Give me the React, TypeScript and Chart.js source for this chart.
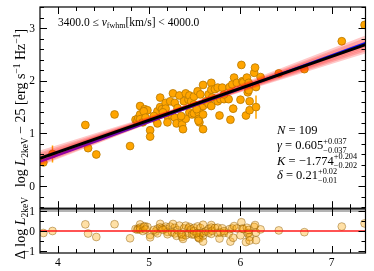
import React, { useEffect, useRef } from "react";
import { Chart, registerables } from "chart.js";
Chart.register(...registerables);

// ---------- data ----------
const PX = [
  3.84, 3.94, 4.30, 4.33, 4.42, 4.62, 4.79, 4.85, 4.87, 4.88,
  4.90, 4.90, 4.90, 4.93, 4.95, 4.98, 4.94, 4.96, 5.01, 5.01,
  5.07, 5.09, 5.09, 5.12, 5.12, 5.14, 5.18, 5.18, 5.20, 5.20,
  5.23, 5.26, 5.28, 5.25, 5.28, 5.30, 5.31, 5.33, 5.36, 5.36,
  5.37, 5.38, 5.40, 5.40, 5.35, 5.43, 5.44, 5.44, 5.47, 5.46,
  5.49, 5.49, 5.49, 5.53, 5.56, 5.54, 5.54, 5.55, 5.54, 5.56,
  5.59, 5.59, 5.59, 5.59, 5.62, 5.65, 5.65, 5.68, 5.68, 5.68,
  5.69, 5.72, 5.75, 5.75, 5.77, 5.78, 5.80, 5.82, 5.87, 5.88,
  5.89, 5.91, 5.92, 5.93, 5.96, 6.00, 6.01, 6.02, 6.03, 6.06,
  6.07, 6.08, 6.09, 6.09, 6.10, 6.10, 6.15, 6.16, 6.17, 6.17,
  6.22, 6.42, 6.70, 7.11, 7.36, 5.15, 5.05, 5.52, 5.82,
];
const PY = [
  0.45, 0.61, 1.16, 0.72, 0.60, 1.36, 0.76, 1.26, 1.24, 1.29,
  1.52, 1.36, 1.27, 1.21, 1.46, 1.44, 1.42, 1.30, 1.06, 0.94,
  1.27, 1.19, 1.42, 1.68, 1.50, 1.46, 1.58, 1.47, 1.33, 1.21,
  1.61, 1.76, 1.58, 1.34, 1.30, 1.19, 1.48, 1.72, 1.27, 1.17,
  1.08, 1.61, 1.76, 1.28, 1.33, 1.64, 1.72, 1.40, 1.36, 1.61,
  1.70, 1.55, 1.38, 1.80, 1.74, 1.40, 1.27, 1.21, 1.24, 1.49,
  1.36, 1.52, 1.92, 1.08, 1.61, 1.74, 1.56, 1.96, 1.83, 1.52,
  1.68, 1.84, 1.87, 1.61, 1.34, 1.65, 1.87, 1.65, 1.65, 1.88,
  1.26, 1.93, 1.47, 2.06, 1.96, 1.64, 2.30, 1.99, 1.97, 1.34,
  2.06, 1.78, 1.82, 1.96, 1.61, 1.44, 2.15, 2.25, 1.88, 1.50,
  2.07, 2.14, 2.22, 2.75, 3.06, 1.40, 1.33, 1.46, 1.74,
];
const PERR = [
  0.03, 0.16, 0.03, 0.03, 0.03, 0.03, 0.03, 0.03, 0.03, 0.03,
  0.03, 0.03, 0.03, 0.03, 0.03, 0.03, 0.03, 0.03, 0.03, 0.07,
  0.03, 0.03, 0.03, 0.03, 0.03, 0.03, 0.03, 0.03, 0.03, 0.03,
  0.03, 0.03, 0.03, 0.03, 0.03, 0.03, 0.03, 0.03, 0.03, 0.09,
  0.03, 0.03, 0.03, 0.03, 0.03, 0.03, 0.03, 0.03, 0.03, 0.03,
  0.03, 0.03, 0.03, 0.03, 0.03, 0.03, 0.03, 0.03, 0.03, 0.03,
  0.03, 0.03, 0.03, 0.03, 0.03, 0.03, 0.03, 0.06, 0.03, 0.03,
  0.03, 0.03, 0.03, 0.03, 0.03, 0.03, 0.03, 0.03, 0.03, 0.03,
  0.03, 0.03, 0.08, 0.03, 0.03, 0.07, 0.03, 0.03, 0.03, 0.03,
  0.03, 0.03, 0.03, 0.03, 0.03, 0.03, 0.03, 0.03, 0.03, 0.22,
  0.03, 0.03, 0.03, 0.03, 0.03, 0.03, 0.03, 0.03, 0.03,
];

// best fit and alternative relation
const GAMMA = 0.605;
const K_FIT = -1.774;
const ALT_SLOPE = 0.6306;
const ALT_INTERCEPT = -1.9326;
// posterior sample lines (slope, intercept)
const SAMPLE_GAMMA = [0.54, 0.56, 0.58, 0.595, 0.605, 0.615, 0.63, 0.65, 0.67];
const SAMPLE_K = [-1.42, -1.53, -1.64, -1.72, -1.774, -1.83, -1.91, -2.02, -2.12];

// axes
const X_MIN = 3.803, X_MAX = 7.37;
const Y_MIN = -0.42, Y_MAX = 3.4;
const R_MIN = -1.1, R_MAX = 1.1;
const X_TICKS = [4, 5, 6, 7];
const Y_TICKS = [0, 1, 2, 3];
const R_TICKS = [-1, 0, 1];
const X_TICK_LABELS = ["4", "5", "6", "7"];
const Y_TICK_LABELS = ["0", "1", "2", "3"];
const R_TICK_LABELS = ["\u22121", "0", "1"];

const FONT = '"Liberation Serif", "DejaVu Serif", serif';
const BOT_TOP = 180; // top offset of the residual canvas

type Seg = { t?: string; it?: boolean; s?: number; dy?: number; sup?: string; sub?: string };

function f(size: number, it?: boolean) {
  return `${it ? "italic " : ""}${size}px ${FONT}`;
}

function segWidth(ctx: CanvasRenderingContext2D, s: Seg, base: number) {
  if (s.sup !== undefined || s.sub !== undefined) {
    const ss = s.s || base * 0.66;
    ctx.font = f(ss);
    return Math.max(ctx.measureText(s.sup || "").width, ctx.measureText(s.sub || "").width);
  }
  ctx.font = f(s.s || base, s.it);
  return ctx.measureText(s.t || "").width;
}

function drawRich(ctx: CanvasRenderingContext2D, segs: Seg[], x: number, y: number, base: number, align: "left" | "center") {
  let total = 0;
  for (const s of segs) total += segWidth(ctx, s, base);
  let cx = align === "center" ? x - total / 2 : x;
  ctx.textBaseline = "alphabetic";
  ctx.textAlign = "left";
  for (const s of segs) {
    const w = segWidth(ctx, s, base);
    if (s.sup !== undefined || s.sub !== undefined) {
      const ss = s.s || base * 0.66;
      ctx.font = f(ss);
      if (s.sup) ctx.fillText(s.sup, cx, y - base * 0.42);
      if (s.sub) ctx.fillText(s.sub, cx, y + base * 0.28);
    } else {
      ctx.font = f(s.s || base, s.it);
      ctx.fillText(s.t || "", cx, y + (s.dy || 0));
    }
    cx += w;
  }
}

function minorRange(min: number, max: number, step: number) {
  const out: number[] = [];
  const start = Math.ceil(min / step - 1e-9);
  for (let i = start; i * step <= max + 1e-9; i++) out.push(+(i * step).toFixed(6));
  return out;
}

function drawFrameAndTicks(chart: any, opts: { yMinor: number; yTicks: number[]; yLabels: string[]; xLabels: boolean }) {
  const ctx: CanvasRenderingContext2D = chart.ctx;
  const { left, right, top, bottom } = chart.chartArea;
  const xs = chart.scales.x;
  const ys = chart.scales.y;
  ctx.save();
  ctx.strokeStyle = "#000";
  ctx.lineWidth = 1.2;
  ctx.strokeRect(left, top, right - left, bottom - top);
  const MAJ = 7, MIN = 4;
  ctx.lineWidth = 1;
  ctx.beginPath();
  for (const v of minorRange(X_MIN, X_MAX, 0.2)) {
    const px = Math.round(xs.getPixelForValue(v)) + 0.5;
    const isMaj = Math.abs(v - Math.round(v)) < 1e-6;
    const L = isMaj ? MAJ : MIN;
    ctx.moveTo(px, bottom); ctx.lineTo(px, bottom - L);
    ctx.moveTo(px, top); ctx.lineTo(px, top + L);
  }
  for (const v of minorRange(ys.min, ys.max, opts.yMinor)) {
    const py = Math.round(ys.getPixelForValue(v)) + 0.5;
    const isMaj = opts.yTicks.some((t) => Math.abs(t - v) < 1e-6);
    const L = isMaj ? MAJ : MIN;
    ctx.moveTo(left, py); ctx.lineTo(left + L, py);
    ctx.moveTo(right, py); ctx.lineTo(right - L, py);
  }
  ctx.stroke();
  ctx.fillStyle = "#000";
  ctx.font = f(11.5);
  ctx.textAlign = "right";
  ctx.textBaseline = "middle";
  opts.yTicks.forEach((v, i) => {
    ctx.fillText(opts.yLabels[i], left - 5, ys.getPixelForValue(v) + 0.5);
  });
  if (opts.xLabels) {
    ctx.textAlign = "center";
    ctx.textBaseline = "top";
    X_TICKS.forEach((v, i) => {
      ctx.fillText(X_TICK_LABELS[i], xs.getPixelForValue(v), bottom + 4);
    });
  }
  ctx.restore();
}

function errorBars(chart: any) {
  const ctx: CanvasRenderingContext2D = chart.ctx;
  const xs = chart.scales.x, ys = chart.scales.y;
  const { left, right, top, bottom } = chart.chartArea;
  ctx.save();
  ctx.beginPath();
  ctx.rect(left, top, right - left, bottom - top);
  ctx.clip();
  ctx.strokeStyle = "#ffa500";
  ctx.lineWidth = 1.5;
  ctx.beginPath();
  PX.forEach((x, i) => {
    const px = xs.getPixelForValue(x);
    ctx.moveTo(px, ys.getPixelForValue(PY[i] - PERR[i]));
    ctx.lineTo(px, ys.getPixelForValue(PY[i] + PERR[i]));
  });
  ctx.stroke();
  ctx.restore();
}

function lineData(slope: number, intercept: number) {
  return [
    { x: X_MIN, y: intercept + slope * X_MIN },
    { x: X_MAX, y: intercept + slope * X_MAX },
  ];
}

export default function App() {
  const topRef = useRef<HTMLCanvasElement>(null);
  const botRef = useRef<HTMLCanvasElement>(null);

  useEffect(() => {
    const mainPlugin = {
      id: "mainDeco",
      beforeDatasetsDraw(chart: any) {
        errorBars(chart);
      },
      afterDraw(chart: any) {
        const ctx: CanvasRenderingContext2D = chart.ctx;
        drawFrameAndTicks(chart, { yMinor: 0.2, yTicks: Y_TICKS, yLabels: Y_TICK_LABELS, xLabels: false });
        ctx.save();
        ctx.fillStyle = "#000";
        drawRich(ctx, [
          { t: "3400.0 \u2264 " },
          { t: "v", it: true },
          { t: "fwhm", s: 8, dy: 2 },
          { t: "[km/s] < 4000.0" },
        ], 58, 26, 11.5, "left");
        const B = 12.5;
        drawRich(ctx, [{ t: "N", it: true }, { t: " = 109" }], 277, 134, B, "left");
        drawRich(ctx, [{ t: "\u03b3", it: true }, { t: " = 0.605" }, { sup: "+0.037", sub: "\u22120.037" }], 277, 149, B, "left");
        drawRich(ctx, [{ t: "K", it: true }, { t: " = \u22121.774" }, { sup: "+0.204", sub: "\u22120.202" }], 277, 164.5, B, "left");
        drawRich(ctx, [{ t: "\u03b4", it: true }, { t: " = 0.21" }, { sup: "+0.02", sub: "\u22120.01" }], 277, 179, B, "left");
        ctx.translate(25, 108);
        ctx.rotate(-Math.PI / 2);
        drawRich(ctx, [
          { t: "log " },
          { t: "L", it: true },
          { t: "2keV", s: 9.5, dy: 2.5 },
          { t: " \u2212 25 [erg s" },
          { t: "\u22121", s: 9.5, dy: -5.5 },
          { t: " Hz" },
          { t: "\u22121", s: 9.5, dy: -5.5 },
          { t: "]" },
        ], 0, 0, 14, "center");
        ctx.restore();
      },
    };

    const sampleSets = SAMPLE_GAMMA.map((g, i) => ({
      type: "line" as const,
      data: lineData(g, SAMPLE_K[i]),
      borderColor: "rgba(255,30,30,0.24)",
      borderWidth: 4,
      pointRadius: 0,
      showLine: true,
      order: 3,
    }));

    const top = new Chart(topRef.current!, {
      type: "scatter",
      data: {
        datasets: [
          {
            data: PX.map((x, i) => ({ x, y: PY[i] })),
            backgroundColor: "#ffa500",
            borderColor: "#b87800",
            borderWidth: 0.8,
            pointRadius: 3.9,
            clip: 0,
            order: 5,
          } as any,
          ...sampleSets,
          {
            type: "line",
            data: lineData(ALT_SLOPE, ALT_INTERCEPT),
            borderColor: (c: any) => {
              const a = c.chart.chartArea;
              if (!a) return "#6020c0";
              const g = c.chart.ctx.createLinearGradient(a.left, 0, a.right, 0);
              g.addColorStop(0, "#a0009a");
              g.addColorStop(0.5, "#5010c0");
              g.addColorStop(1, "#0010ff");
              return g;
            },
            borderWidth: 2.5,
            pointRadius: 0,
            showLine: true,
            order: 2,
          } as any,
          {
            type: "line",
            data: lineData(GAMMA, K_FIT),
            borderColor: "#000",
            borderWidth: 3,
            pointRadius: 0,
            showLine: true,
            order: 1,
          } as any,
        ],
      },
      options: {
        animation: false,
        responsive: false,
        events: [],
        layout: { padding: { left: 40, right: 8.5, top: 7, bottom: 4 } },
        plugins: { legend: { display: false }, tooltip: { enabled: false } },
        scales: {
          x: { type: "linear", min: X_MIN, max: X_MAX, display: false },
          y: { type: "linear", min: Y_MIN, max: Y_MAX, display: false },
        },
      },
      plugins: [mainPlugin],
    });

    const resPlugin = {
      id: "resDeco",
      beforeDatasetsDraw(chart: any) {
        const ctx: CanvasRenderingContext2D = chart.ctx;
        const { left, right } = chart.chartArea;
        const py = chart.scales.y.getPixelForValue(1);
        ctx.save();
        ctx.strokeStyle = "#9a9a9a";
        ctx.lineWidth = 1.6;
        ctx.beginPath();
        ctx.moveTo(left, py);
        ctx.lineTo(right, py);
        ctx.stroke();
        ctx.restore();
      },
      afterDraw(chart: any) {
        const ctx: CanvasRenderingContext2D = chart.ctx;
        drawFrameAndTicks(chart, { yMinor: 0.5, yTicks: R_TICKS, yLabels: R_TICK_LABELS, xLabels: true });
        ctx.save();
        ctx.fillStyle = "#000";
        ctx.translate(25, 228 - BOT_TOP);
        ctx.rotate(-Math.PI / 2);
        drawRich(ctx, [
          { t: "\u0394 log " },
          { t: "L", it: true },
          { t: "2keV", s: 9.5, dy: 2.5 },
        ], 0, 0, 14, "center");
        ctx.restore();
      },
    };

    const bot = new Chart(botRef.current!, {
      type: "scatter",
      data: {
        datasets: [
          {
            data: PX.map((x, i) => ({ x, y: PY[i] - (K_FIT + GAMMA * x) })),
            backgroundColor: "rgba(255,165,0,0.35)",
            borderColor: "rgba(130,85,0,0.55)",
            borderWidth: 0.8,
            pointRadius: 3.9,
            clip: 0,
            order: 5,
          } as any,
          {
            type: "line",
            data: [{ x: X_MIN, y: 0 }, { x: X_MAX, y: 0 }],
            borderColor: "#ff1a1a",
            borderWidth: 1.6,
            pointRadius: 0,
            showLine: true,
            order: 1,
          } as any,
        ],
      },
      options: {
        animation: false,
        responsive: false,
        events: [],
        layout: { padding: { left: 40, right: 8.5, top: 209 - BOT_TOP, bottom: 271 - 253 } },
        plugins: { legend: { display: false }, tooltip: { enabled: false } },
        scales: {
          x: { type: "linear", min: X_MIN, max: X_MAX, display: false },
          y: { type: "linear", min: R_MIN, max: R_MAX, display: false },
        },
      },
      plugins: [resPlugin],
    });

    return () => {
      top.destroy();
      bot.destroy();
    };
  }, []);

  return (
    <div style={{ position: "fixed", left: 0, top: 0, width: 374, height: 271, background: "#fff" }}>
      <canvas ref={botRef} width={374} height={271 - BOT_TOP} style={{ position: "absolute", left: 0, top: BOT_TOP, width: 374, height: 271 - BOT_TOP }} />
      <canvas ref={topRef} width={374} height={213} style={{ position: "absolute", left: 0, top: 0, width: 374, height: 213 }} />
    </div>
  );
}
